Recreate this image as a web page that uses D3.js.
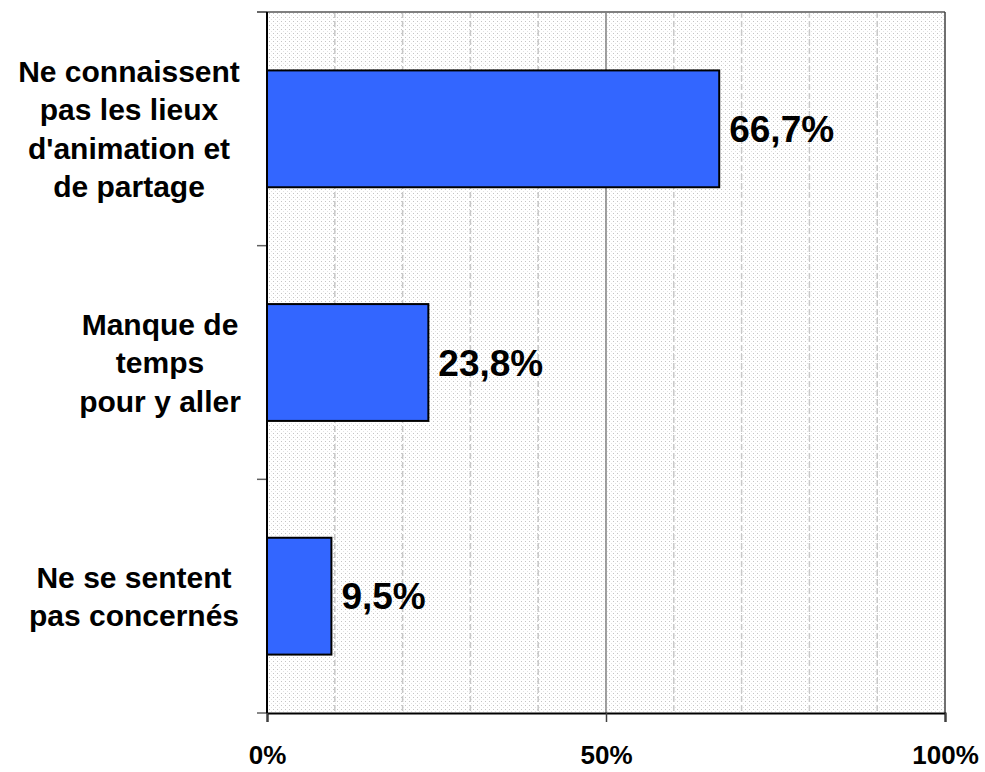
<!DOCTYPE html>
<html>
<head>
<meta charset="utf-8">
<script src="https://cdn.jsdelivr.net/npm/d3@7"></script>
<style>
  html, body { margin: 0; padding: 0; background: #ffffff; }
  svg { display: block; }
  text { font-family: "Liberation Sans", Arial, sans-serif; font-weight: bold; fill: #000; }
</style>
</head>
<body>
<svg id="chart" width="985" height="772"></svg>
<script>
// ---- data ----
const categories = [
  ["Ne connaissent", "pas les lieux", "d'animation et", "de partage"],
  ["Manque de", "temps", "pour y aller"],
  ["Ne se sentent", "pas concernés"]
];
const values = [0.667, 0.238, 0.095];
const valueLabels = ["66,7%", "23,8%", "9,5%"];
const xTickValues = [0, 0.5, 1];
const xTickLabels = ["0%", "50%", "100%"];
const gridValues = [0.1, 0.2, 0.3, 0.4, 0.5, 0.6, 0.7, 0.8, 0.9];
const labelCenters = [129, 160, 134];

// ---- layout ----
const plot = { left: 267, right: 945, top: 12, bottom: 713 };

const svg = d3.select("#chart");

const x = d3.scaleLinear().domain([0, 1]).range([plot.left, plot.right]);
const y = d3.scaleBand()
  .domain(d3.range(categories.length))
  .range([plot.top, plot.bottom])
  .paddingInner(0.5)
  .paddingOuter(0.25);

// dotted background pattern
const defs = svg.append("defs");
const pat = defs.append("pattern")
  .attr("id", "dots")
  .attr("patternUnits", "userSpaceOnUse")
  .attr("width", 4).attr("height", 4);
pat.append("rect").attr("width", 4).attr("height", 4).attr("fill", "#ffffff");
pat.append("rect").attr("x", 1).attr("y", 1).attr("width", 1).attr("height", 1).attr("fill", "#c4c4c4");
pat.append("rect").attr("x", 3).attr("y", 3).attr("width", 1).attr("height", 1).attr("fill", "#e2e2e2");

svg.append("rect")
  .attr("x", plot.left).attr("y", plot.top)
  .attr("width", plot.right - plot.left)
  .attr("height", plot.bottom - plot.top)
  .attr("fill", "url(#dots)");

// gridlines
svg.append("g").selectAll("line")
  .data(gridValues)
  .join("line")
  .attr("x1", d => x(d)).attr("x2", d => x(d))
  .attr("y1", plot.top).attr("y2", plot.bottom)
  .attr("stroke", d => Math.abs(d - 0.5) < 1e-9 ? "#808080" : "#c8c8c8")
  .attr("stroke-width", 1.5)
  .attr("stroke-dasharray", d => Math.abs(d - 0.5) < 1e-9 ? null : "6,3");

// plot border (top, right)
svg.append("line")
  .attr("x1", plot.left - 10).attr("x2", plot.right)
  .attr("y1", plot.top).attr("y2", plot.top)
  .attr("stroke", "#808080").attr("stroke-width", 2);
svg.append("line")
  .attr("x1", plot.right).attr("x2", plot.right)
  .attr("y1", plot.top).attr("y2", plot.bottom)
  .attr("stroke", "#404040").attr("stroke-width", 1.5);

// bars
svg.append("g").selectAll("rect")
  .data(values)
  .join("rect")
  .attr("x", x(0))
  .attr("y", (d, i) => y(i))
  .attr("width", d => x(d) - x(0))
  .attr("height", y.bandwidth())
  .attr("fill", "#3366FF")
  .attr("stroke", "#000")
  .attr("stroke-width", 2);

// value labels
svg.append("g").selectAll("text")
  .data(values)
  .join("text")
  .attr("x", d => x(d) + 10)
  .attr("y", (d, i) => y(i) + y.bandwidth() / 2)
  .attr("dy", "0.36em")
  .attr("font-size", 37)
  .text((d, i) => valueLabels[i]);

// y axis (category axis) with ticks at band boundaries
const yBounds = d3.range(categories.length + 1).map(i => plot.top + i * y.step());
svg.append("g").selectAll("line")
  .data(yBounds)
  .join("line")
  .attr("x1", plot.left - 10).attr("x2", plot.left)
  .attr("y1", d => d).attr("y2", d => d)
  .attr("stroke", "#606060").attr("stroke-width", 1.5);
svg.append("line")
  .attr("x1", plot.left).attr("x2", plot.left)
  .attr("y1", plot.top).attr("y2", plot.bottom)
  .attr("stroke", "#000").attr("stroke-width", 2);

// x axis
const xAxis = d3.axisBottom(x)
  .tickValues(xTickValues)
  .tickSize(9)
  .tickFormat((d, i) => xTickLabels[i]);
const gx = svg.append("g")
  .attr("transform", `translate(0,${plot.bottom})`)
  .call(xAxis);
gx.select(".domain").attr("stroke", "#000").attr("stroke-width", 2);
gx.selectAll(".tick line").attr("stroke", "#404040").attr("stroke-width", 1.5);
gx.selectAll(".tick text")
  .attr("y", 33)
  .attr("dy", "0.71em")
  .attr("font-size", 26)
  .attr("font-family", "'Liberation Sans', Arial, sans-serif")
  .attr("font-weight", "bold")
  .attr("fill", "#000");

// category labels
const lineH = 38.5;
const catG = svg.append("g");
categories.forEach((lines, i) => {
  const cy = y(i) + y.bandwidth() / 2;
  const t = catG.append("text")
    .attr("text-anchor", "middle")
    .attr("font-size", 30)
    .attr("y", cy - (lines.length - 1) * lineH / 2)
    .attr("dy", "0.36em");
  lines.forEach((ln, j) => {
    t.append("tspan")
      .attr("x", labelCenters[i])
      .attr("dy", j === 0 ? "0.36em" : lineH)
      .text(ln);
  });
});
</script>
</body>
</html>
